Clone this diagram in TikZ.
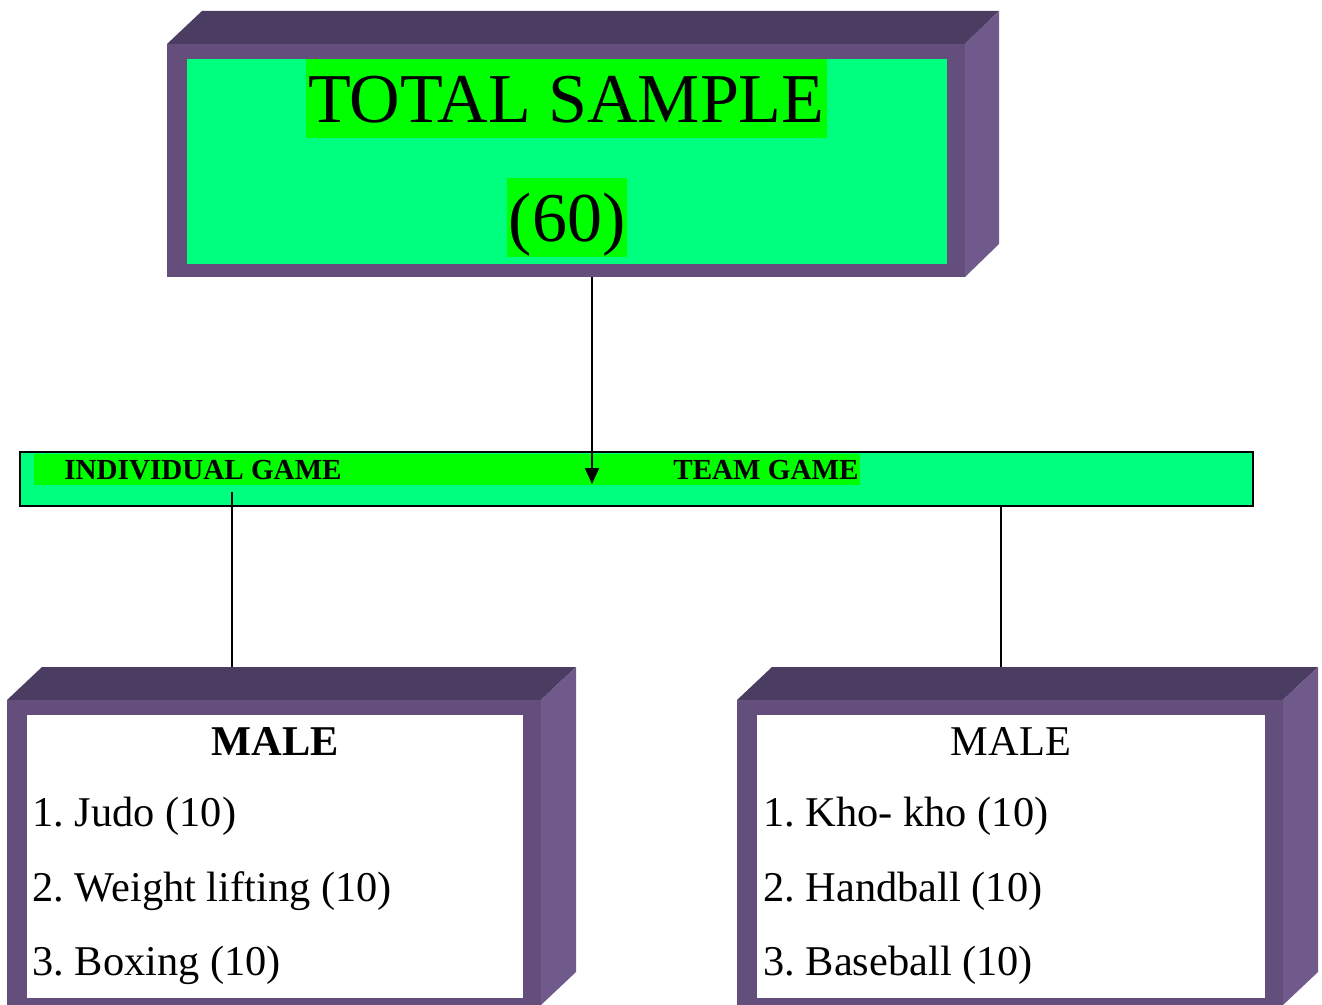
\documentclass[tikz,border=0pt]{standalone}
\usepackage{fontspec}
\setmainfont{Liberation Serif}
\usetikzlibrary{arrows.meta}
\frenchspacing
\begin{document}
\begin{tikzpicture}[x=0.5pt,y=-0.5pt,
    big/.style={fill=hl, inner xsep=1pt, inner ysep=0pt, text height=32pt, text depth=7.5pt, anchor=base, font=\fontsize{35}{40}\selectfont},
    bartext/.style={inner sep=0pt, anchor=base west, font=\fontsize{14.55}{17}\selectfont\bfseries},
    item/.style={inner sep=0pt, anchor=base west, font=\fontsize{21.2}{25}\selectfont},
    head/.style={inner sep=0pt, anchor=base, font=\fontsize{21.2}{25}\selectfont},
    link/.style={line width=1pt}]
            \definecolor{topface}{HTML}{4B3C61}
            \definecolor{frontface}{HTML}{634E7C}
            \definecolor{sideface}{HTML}{705A8C}
            \definecolor{spring}{HTML}{00FF7F}
            \definecolor{hl}{HTML}{00FF00}
            \useasboundingbox (0,0) rectangle (1322,1005);
            \clip (0,0) rectangle (1322,1005);
            \fill[topface]   ( 167, 44) -- ( 202, 11) -- ( 999, 11) -- ( 965, 44) -- cycle;
            \fill[sideface]  ( 965, 44) -- ( 999, 11) -- ( 999,244) -- ( 965,277) -- cycle;
            \fill[frontface] ( 167, 44) rectangle ( 965,277);
            \fill[spring]    ( 187, 59) rectangle ( 947,264);
            \fill[topface]   (   7,700) -- (  42,667) -- ( 576,667) -- ( 541,700) -- cycle;
            \fill[sideface]  ( 541,700) -- ( 576,667) -- ( 576,972) -- ( 541,1005) -- cycle;
            \fill[frontface] (   7,700) rectangle ( 541,1005);
            \fill[white]     (  27,715) rectangle ( 523,998);
            \fill[topface]   ( 737,700) -- ( 772,667) -- (1318,667) -- (1283,700) -- cycle;
            \fill[sideface]  (1283,700) -- (1318,667) -- (1318,972) -- (1283,1005) -- cycle;
            \fill[frontface] ( 737,700) rectangle (1283,1005);
            \fill[white]     ( 757,715) rectangle (1265,998);
            \draw[line width=1pt, fill=spring] (20,452) rectangle (1253,506);
            \fill[hl] (34,454) rectangle (860,485);
            \node[big] (title) at (566.5,123) {TOTAL SAMPLE};
            \node[big] (count) at (567,242) {(60)};
            \node[bartext] (indiv) at ( 64,480) {INDIVIDUAL GAME};
            \node[bartext] (team)  at (673,480) {TEAM GAME};
            \node[head, font=\fontsize{21.2}{25}\selectfont\bfseries] (lmale) at (275,755) {MALE};
            \node[item] (ljudo)   at (32,826) {1. Judo (10)};
            \node[item] (lweight) at (32,901) {2. Weight lifting (10)};
            \node[item] (lboxing) at (32,975) {3. Boxing (10)};
            \node[head] (rmale) at (1011,755) {MALE};
            \node[item] (rkho)  at (763,826) {1. Kho- kho (10)};
            \node[item] (rhand) at (763,901) {2. Handball (10)};
            \node[item] (rbase) at (763,975) {3. Baseball (10)};
            \coordinate (topout)  at ( 592,277);
            \coordinate (barin)   at ( 592,484);
            \coordinate (leftup)  at ( 232,492);
            \coordinate (leftdn)  at ( 232,667);
            \coordinate (rightup) at (1001,506);
            \coordinate (rightdn) at (1001,667);
            \draw[link, -{Triangle[length=8pt,width=7pt]}] (topout) -- (barin);
            \draw[link] (leftup) -- (leftdn);
            \draw[link] (rightup) -- (rightdn);
        \end{tikzpicture}
\end{document}
